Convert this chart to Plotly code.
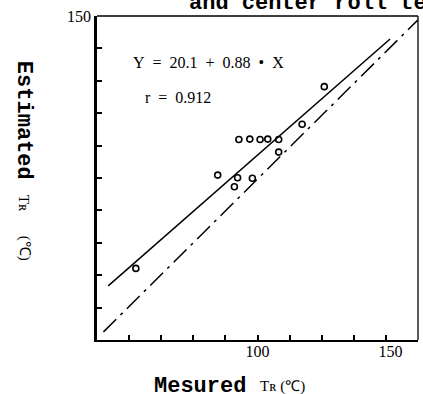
import plotly.graph_objects as go

# measured vs estimated TR (°C)
measured = [62.1, 87.6, 92.8, 93.8, 94.2, 97.6, 98.4, 100.8, 103.2, 106.6, 106.6, 113.9, 120.8]
estimated = [72.1, 100.9, 97.3, 100.1, 111.9, 112.0, 99.9, 111.9, 112.0, 111.9, 108.0, 116.6, 128.2]

# regression line Y = 20.1 + 0.88 X (end points as drawn)
fit_x = [53.5, 141.3]
fit_y = [66.7, 142.9]

# 1:1 reference line (dash-dot, as drawn)
ref_x = [52.0, 150.0]
ref_y = [52.5, 148.8]

x_ticks = [60, 70, 80, 90, 100, 110, 120, 130, 140]
x_label_pos = [48.8, 100, 141.4]
x_label_text = ["50", "100", "150"]
y_ticks = [60, 70, 80, 90, 100, 110, 120, 130, 140]
y_label_pos = [100, 150]
y_label_text = ["100", "150"]

mono = "Liberation Mono"
serif = "Liberation Serif"

fig = go.Figure()
fig.add_trace(go.Scatter(x=fit_x, y=fit_y, mode="lines",
                         line=dict(color="black", width=1.5), showlegend=False))
fig.add_trace(go.Scatter(x=ref_x, y=ref_y, mode="lines",
                         line=dict(color="black", width=1.5, dash="18px,6px,3px,6px"),
                         showlegend=False))
fig.add_trace(go.Scatter(x=measured, y=estimated, mode="markers",
                         marker=dict(symbol="circle-open", size=6, color="black",
                                     line=dict(width=1.6, color="black")),
                         showlegend=False))
# invisible trace to activate label axis
fig.add_trace(go.Scatter(x=[50], y=[50], xaxis="x2", mode="markers",
                         marker=dict(opacity=0), showlegend=False, hoverinfo="skip"))

fig.update_layout(
    width=423, height=394, autosize=False,
    margin=dict(l=97, r=5, t=16, b=54, autoexpand=False),
    paper_bgcolor="white", plot_bgcolor="white",
    xaxis=dict(range=[50, 150], tickvals=x_ticks, showticklabels=False,
               ticks="inside", ticklen=5, tickwidth=1.5, tickcolor="black",
               showline=True, linecolor="black", linewidth=2.2,
               showgrid=False, zeroline=False, automargin=False),
    xaxis2=dict(range=[50, 150], overlaying="x", side="bottom",
                tickvals=x_label_pos, ticktext=x_label_text, ticks="",
                showline=False, showgrid=False, zeroline=False, automargin=False,
                tickfont=dict(family=serif, size=16, color="black")),
    yaxis=dict(range=[50, 150], tickvals=y_ticks + y_label_pos,
               ticktext=[""] * len(y_ticks) + y_label_text,
               ticks="inside", ticklen=5, tickwidth=1.5, tickcolor="black",
               showline=True, linecolor="black", linewidth=2.6,
               showgrid=False, zeroline=False, automargin=False,
               tickfont=dict(family=serif, size=16, color="black")),
    shapes=[
        dict(type="line", xref="paper", yref="paper", x0=0, x1=1, y0=1, y1=1,
             line=dict(color="black", width=1.5)),
        dict(type="line", xref="paper", yref="paper", x0=1, x1=1, y0=0, y1=1,
             line=dict(color="black", width=1.3)),
    ],
    annotations=[
        dict(text="<b>and center roll temperature</b>", xref="paper", yref="paper",
             x=0.28, y=0.994, xanchor="left", yanchor="bottom", showarrow=False,
             font=dict(family=mono, size=22, color="black"), ),
        dict(text="Y\u2002=\u200220.1\u2002+\u20020.88\u2002\u2022\u2002X",
             xref="x", yref="y", x=60.6, y=135.8, xanchor="left", yanchor="middle",
             showarrow=False, font=dict(family=serif, size=16, color="black")),
        dict(text="r\u2002=\u20020.912", xref="x", yref="y", x=64.4, y=125.0,
             xanchor="left", yanchor="middle", showarrow=False,
             font=dict(family=serif, size=16, color="black")),
        dict(text="<b>Estimated</b>", xref="paper", yref="paper", x=-0.227, y=0.679,
             xanchor="center", yanchor="middle", textangle=90, showarrow=False,
             font=dict(family=mono, size=22, color="black")),
        dict(text="T\u0280", xref="paper", yref="paper", x=-0.227, y=0.423,
             xanchor="center", yanchor="middle", textangle=90, showarrow=False,
             font=dict(family=serif, size=15, color="black")),
        dict(text="(\u2103)", xref="paper", yref="paper", x=-0.227, y=0.284,
             xanchor="center", yanchor="middle", textangle=90, showarrow=False,
             font=dict(family=serif, size=15, color="black")),
        dict(text="<b>Mesured</b>", xref="paper", yref="paper", x=0.321, y=-0.142,
             xanchor="center", yanchor="middle", showarrow=False,
             font=dict(family=mono, size=22, color="black")),
        dict(text="T\u0280 (\u2103)", xref="paper", yref="paper", x=0.579, y=-0.142,
             xanchor="center", yanchor="middle", showarrow=False,
             font=dict(family=serif, size=15, color="black")),
    ],
)

fig.write_html("out.html", config={"responsive": False, "displayModeBar": False},
               post_script="document.body.style.margin='0';document.body.style.overflow='hidden';")
